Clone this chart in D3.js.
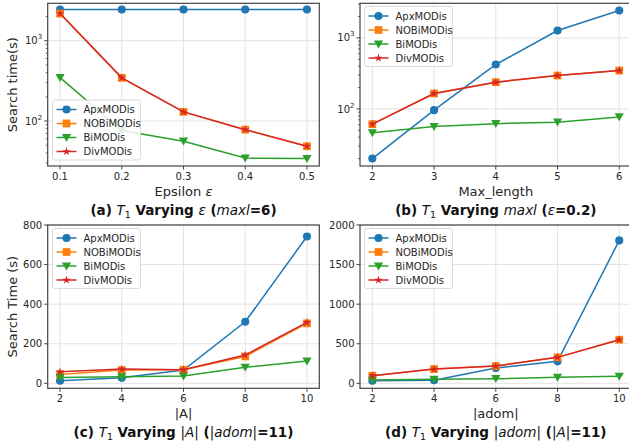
<!DOCTYPE html>
<html>
<head>
<meta charset="utf-8">
<script src="https://cdn.jsdelivr.net/npm/d3@7"></script>
<style>
  body { margin: 0; background: #fff; }
  svg { display: block; font-family: "DejaVu Sans", sans-serif; }
</style>
</head>
<body>
<svg id="chart" width="629" height="446"></svg>
<script>
// ==== data ====
const seriesNames = ["ApxMODis", "NOBiMODis", "BiMODis", "DivMODis"];
const seriesColors = ["#1f77b4", "#ff7f0e", "#2ca02c", "#d62728"];

const epsTicks = [0.1, 0.2, 0.3, 0.4, 0.5];
const epsApx  = [2450, 2450, 2450, 2450, 2450];
const epsNOBi = [2180, 345, 130, 78, 48.5];
const epsBi   = [347, 76, 56, 34.5, 34];
const epsDiv  = [2180, 345, 130, 78, 48.5];

const maxlTicks = [2, 3, 4, 5, 6];
const maxlApx  = [20, 96, 422, 1270, 2430];
const maxlNOBi = [61, 165, 238, 295, 347];
const maxlBi   = [46, 56.5, 62, 65, 77];
const maxlDiv  = [61, 165, 238, 295, 347];

const attrTicks = [2, 4, 6, 8, 10];
const attrApx  = [13, 28, 67, 311, 742];
const attrNOBi = [45, 67, 69, 136, 303];
const attrBi   = [30, 33, 37, 81, 113];
const attrDiv  = [58, 72, 69, 143, 308];
const attrYTicks = [0, 200, 400, 600, 800];

const adomTicks = [2, 4, 6, 8, 10];
const adomApx  = [33, 38, 193, 278, 1805];
const adomNOBi = [96, 180, 218, 328, 551];
const adomBi   = [42, 50, 58, 76, 88];
const adomDiv  = [96, 180, 218, 328, 551];
const adomYTicks = [0, 500, 1000, 1500, 2000];

// ==== panels ====
const panels = [
  { box: [47.7, 319.3, 3.3, 166], x: epsTicks, xfmt: d3.format(".1f"), log: true, ydom: [27.5, 2925],
    series: [epsApx, epsNOBi, epsBi, epsDiv], legend: [52.5, 100],
    ylabel: "Search time(s)", xlabel: [["Epsilon ", ""], ["ε", "it"]],
    title: [["(a) ", "b"], ["T", "it"], ["1", "sub"], [" Varying ", "b"], ["ε", "it"], [" (", "b"], ["maxl", "it"], ["=6)", "b"]] },
  { box: [360, 631.6, 3.3, 166], x: maxlTicks, xfmt: d3.format("d"), log: true, ydom: [15.7, 3070],
    series: [maxlApx, maxlNOBi, maxlBi, maxlDiv], legend: [364.5, 6.5],
    ylabel: null, xlabel: [["Max_length", ""]],
    title: [["(b) ", "b"], ["T", "it"], ["1", "sub"], [" Varying ", "b"], ["maxl", "it"], [" (", "b"], ["ε", "it"], ["=0.2)", "b"]] },
  { box: [47.7, 319.3, 225, 388.3], x: attrTicks, xfmt: d3.format("d"), log: false, ydom: [-25, 800], yticks: attrYTicks,
    series: [attrApx, attrNOBi, attrBi, attrDiv], legend: [52.5, 228.5],
    ylabel: "Search Time (s)", xlabel: [["|A|", ""]],
    title: [["(c) ", "b"], ["T", "it"], ["1", "sub"], [" Varying ", "b"], ["|", ""], ["A", "it"], ["|", ""], [" (", "b"], ["|", ""], ["adom", "it"], ["|", ""], ["=11)", "b"]] },
  { box: [360, 631.6, 225, 388.3], x: adomTicks, xfmt: d3.format("d"), log: false, ydom: [-63, 2000], yticks: adomYTicks,
    series: [adomApx, adomNOBi, adomBi, adomDiv], legend: [364.5, 228.5],
    ylabel: null, xlabel: [["|adom|", ""]],
    title: [["(d) ", "b"], ["T", "it"], ["1", "sub"], [" Varying ", "b"], ["|", ""], ["adom", "it"], ["|", ""], [" (", "b"], ["|", ""], ["A", "it"], ["|", ""], ["=11)", "b"]] },
];

const svg = d3.select("#chart");
const spineColor = "#444";
const gridColor = "#e3e3e3";
const textColor = "#262626";

// marker paths: o, s, v, *
function markerPath(i) {
  if (i === 0) return d3.symbol(d3.symbolCircle, 52)();
  if (i === 1) return d3.symbol(d3.symbolSquare, 60)();
  if (i === 2) return "M-4.6,-3.6L4.6,-3.6L0,4.4Z";
  return d3.symbol(d3.symbolStar, 22)();
}

// mixed bold / italic / subscript text
function addRich(sel, parts, size) {
  let wasSub = false;
  for (const [t, st] of parts) {
    const ts = sel.append("tspan").text(t);
    if (st === "b") ts.attr("font-weight", "bold");
    if (st === "it") ts.attr("font-style", "italic");
    if (st === "sub") ts.attr("font-size", size * 0.7).attr("dy", size * 0.22);
    else if (wasSub) ts.attr("dy", -size * 0.22);
    wasSub = st === "sub";
  }
}

panels.forEach(p => {
  const [L, R, T, B] = p.box;
  const xr = p.x[p.x.length - 1] - p.x[0];
  const x = d3.scaleLinear().domain([p.x[0] - xr * 0.05, p.x[p.x.length - 1] + xr * 0.05]).range([L, R]);
  const y = (p.log ? d3.scaleLog() : d3.scaleLinear()).domain(p.ydom).range([B, T]);
  const g = svg.append("g");

  // y ticks (decades + minor ticks for log)
  let majors, minors = [];
  if (p.log) {
    majors = [];
    for (let e = 0; e <= 4; e++) {
      const v = Math.pow(10, e);
      if (v >= p.ydom[0] && v <= p.ydom[1]) majors.push(v);
      for (let k = 2; k <= 9; k++) { const m = k * v; if (m >= p.ydom[0] && m <= p.ydom[1]) minors.push(m); }
    }
  } else majors = p.yticks;

  // grid
  g.selectAll(".gx").data(p.x).enter().append("line")
    .attr("x1", d => x(d)).attr("x2", d => x(d)).attr("y1", T).attr("y2", B)
    .attr("stroke", gridColor).attr("stroke-width", 1);
  g.selectAll(".gy").data(majors).enter().append("line")
    .attr("x1", L).attr("x2", R).attr("y1", d => y(d)).attr("y2", d => y(d))
    .attr("stroke", gridColor).attr("stroke-width", 1);

  // series
  const line = d3.line().x((d, i) => x(p.x[i])).y(d => y(d));
  p.series.forEach((vals, si) => {
    const sg = g.append("g");
    sg.append("path").attr("d", line(vals)).attr("fill", "none")
      .attr("stroke", seriesColors[si]).attr("stroke-width", 1.5);
    sg.selectAll("path.m").data(vals).enter().append("path").attr("class", "m")
      .attr("d", markerPath(si))
      .attr("transform", (d, i) => `translate(${x(p.x[i])},${y(d)})`)
      .attr("fill", seriesColors[si]);
  });

  // spines
  g.append("rect").attr("x", L).attr("y", T).attr("width", R - L).attr("height", B - T)
    .attr("fill", "none").attr("stroke", spineColor).attr("stroke-width", 1.2);

  // x ticks
  p.x.forEach(v => {
    g.append("line").attr("x1", x(v)).attr("x2", x(v)).attr("y1", B).attr("y2", B + 3.5).attr("stroke", spineColor);
    g.append("text").attr("x", x(v)).attr("y", B + 13.5).attr("text-anchor", "middle")
      .attr("font-size", 10).attr("fill", textColor).text(p.xfmt(v));
  });
  // y ticks
  majors.forEach(v => {
    g.append("line").attr("x1", L - 3.5).attr("x2", L).attr("y1", y(v)).attr("y2", y(v)).attr("stroke", spineColor);
    const t = g.append("text").attr("x", L - 5.5).attr("y", y(v) + 3.6).attr("text-anchor", "end")
      .attr("font-size", 10).attr("fill", textColor);
    if (p.log) {
      t.append("tspan").text("10");
      t.append("tspan").attr("font-size", 7).attr("dy", -5).text(Math.round(Math.log10(v)));
    } else t.text(v);
  });
  minors.forEach(v => {
    g.append("line").attr("x1", L - 2).attr("x2", L).attr("y1", y(v)).attr("y2", y(v)).attr("stroke", spineColor).attr("stroke-width", 0.8);
  });

  // labels
  if (p.ylabel) {
    g.append("text").attr("transform", `translate(17,${(T + B) / 2}) rotate(-90)`)
      .attr("text-anchor", "middle").attr("font-size", 13).attr("fill", textColor).text(p.ylabel);
  }
  const xl = g.append("text").attr("x", (L + R) / 2).attr("y", B + 30)
    .attr("text-anchor", "middle").attr("font-size", 13).attr("fill", textColor);
  addRich(xl, p.xlabel, 13);
  const tl = g.append("text").attr("x", (L + R) / 2).attr("y", B + 49)
    .attr("text-anchor", "middle").attr("font-size", 13.5).attr("fill", "#111");
  addRich(tl, p.title, 13.5);

  // legend
  const [lx, ly] = p.legend;
  const lg = g.append("g").attr("transform", `translate(${lx},${ly})`);
  lg.append("rect").attr("width", 88).attr("height", 60).attr("rx", 2.5)
    .attr("fill", "#fff").attr("fill-opacity", 0.85).attr("stroke", "#d0d0d0").attr("stroke-width", 0.8);
  seriesNames.forEach((n, i) => {
    const cy = 9.5 + i * 14;
    lg.append("line").attr("x1", 4).attr("x2", 24).attr("y1", cy).attr("y2", cy)
      .attr("stroke", seriesColors[i]).attr("stroke-width", 1.5);
    lg.append("path").attr("d", markerPath(i)).attr("transform", `translate(14,${cy})`).attr("fill", seriesColors[i]);
    lg.append("text").attr("x", 31).attr("y", cy + 3.6).attr("font-size", 10).attr("fill", textColor).text(n);
  });
});
</script>
</body>
</html>
